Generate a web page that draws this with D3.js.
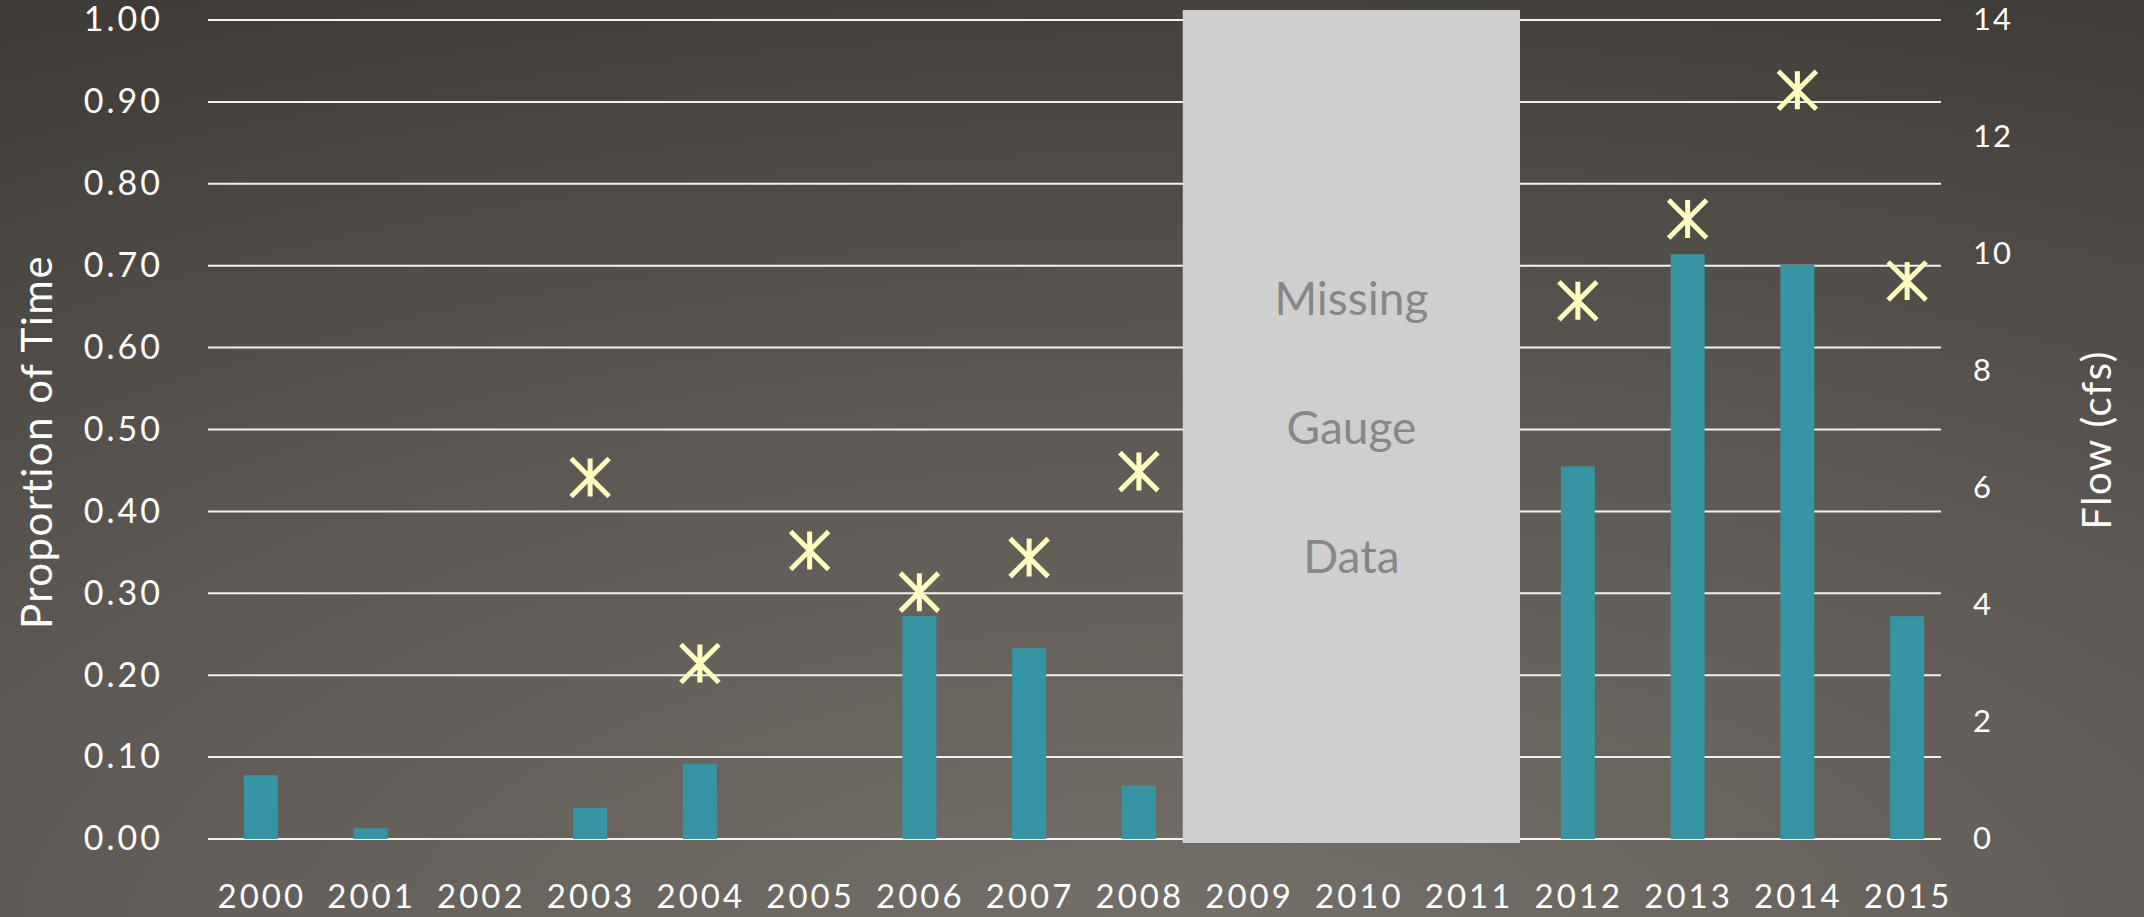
<!DOCTYPE html>
<html>
<head>
<meta charset="utf-8">
<script src="https://cdn.jsdelivr.net/npm/d3@7"></script>
<style>
  body { margin: 0; background: #4a4641; }
  svg { display: block; }
  text { font-family: Candara, Lato, "Open Sans", sans-serif; }
</style>
</head>
<body>
<svg id="chart" width="2144" height="917"></svg>
<script>
// data
var years = ["2000","2001","2002","2003","2004","2005","2006","2007","2008",
             "2009","2010","2011","2012","2013","2014","2015"];
var proportion = [0.078, 0.013, 0, 0.038, 0.092, 0, 0.272, 0.233, 0.065,
                  null, null, null, 0.455, 0.714, 0.701, 0.272];
var flow = [null, null, null, 6.18, 3.0, 4.93, 4.22, 4.81, 6.28,
            null, null, null, 9.2, 10.6, 12.8, 9.54];
var leftTicks = [0, 0.1, 0.2, 0.3, 0.4, 0.5, 0.6, 0.7, 0.8, 0.9, 1.0];
var rightTicks = [0, 2, 4, 6, 8, 10, 12, 14];
var missingYears = ["2009", "2010", "2011"];
var missingLabel = ["Missing", "Gauge", "Data"];

var W = 2144, H = 917;
var plotLeft = 208, plotRight = 1941, plotTop = 20, plotBottom = 839;
var catLeft = 206, catRight = 1962;
var fontStack = "Candara, Lato, 'Open Sans', sans-serif";

var svg = d3.select("#chart");

// background
var defs = svg.append("defs");
var grad = defs.append("radialGradient").attr("id", "bg")
    .attr("cx", 0.55).attr("cy", 1.05).attr("r", 1.15)
    .attr("gradientUnits", "objectBoundingBox");
grad.append("stop").attr("offset", 0).attr("stop-color", "#757069");
grad.append("stop").attr("offset", 0.55).attr("stop-color", "#5c5752");
grad.append("stop").attr("offset", 1).attr("stop-color", "#3f3b37");
svg.append("rect").attr("width", W).attr("height", H).attr("fill", "url(#bg)");

var xo = d3.scaleBand().domain(years).range([catLeft, catRight]).padding(0);
var x = d3.scaleBand().domain(years).range([catLeft, catRight])
    .paddingInner(0.69).paddingOuter(0.345);
var y = d3.scaleLinear().domain([0, 1]).range([plotBottom, plotTop]);
var y2 = d3.scaleLinear().domain([0, 14]).range([plotBottom, plotTop]);

// gridlines
svg.append("g").selectAll("line")
  .data(leftTicks)
  .enter().append("line")
    .attr("x1", plotLeft).attr("x2", plotRight)
    .attr("y1", d => y(d)).attr("y2", d => y(d))
    .attr("stroke", "#f2f2f2").attr("stroke-width", 2);

// left axis
var yAxis = d3.axisLeft(y).tickValues(leftTicks).tickFormat(d3.format(".2f")).tickSize(0).tickPadding(0);
var gy = svg.append("g").attr("transform", "translate(163,0)").call(yAxis);
gy.select(".domain").remove();
gy.selectAll("text").attr("fill", "#ffffff").style("font-size", "34px")
  .style("letter-spacing", "3px")
  .style("font-family", fontStack);

// right axis
var yAxis2 = d3.axisRight(y2).tickValues(rightTicks).tickSize(0).tickPadding(0);
var gy2 = svg.append("g").attr("transform", "translate(1973,0)").call(yAxis2);
gy2.select(".domain").remove();
gy2.selectAll("text").attr("fill", "#ffffff").style("font-size", "31px")
  .style("letter-spacing", "2px")
  .style("font-family", fontStack);

// x axis labels
var xAxis = d3.axisBottom(xo).tickSize(0).tickPadding(0);
var gx = svg.append("g").attr("transform", "translate(1,885)").call(xAxis);
gx.select(".domain").remove();
gx.selectAll("text").attr("fill", "#ffffff").style("font-size", "33px")
  .style("letter-spacing", "3px")
  .style("font-family", fontStack);

// bars
svg.append("g").selectAll("rect")
  .data(years.map((d, i) => ({year: d, v: proportion[i]})).filter(d => d.v))
  .enter().append("rect")
    .attr("x", d => x(d.year))
    .attr("width", x.bandwidth())
    .attr("y", d => y(d.v))
    .attr("height", d => y(0) - y(d.v))
    .attr("fill", "#3795a3");

// missing data box
var bx0 = xo(missingYears[0]) - 11;
var bx1 = xo(missingYears[missingYears.length - 1]) + xo.step() - 3;
svg.append("rect")
  .attr("x", bx0).attr("y", y(1) - 10)
  .attr("width", bx1 - bx0).attr("height", y(0) - y(1) + 14)
  .attr("fill", "#d0cfd0");
svg.append("g").selectAll("text")
  .data(missingLabel)
  .enter().append("text")
    .attr("x", (bx0 + bx1) / 2)
    .attr("y", (d, i) => 315 + i * 129)
    .attr("text-anchor", "middle")
    .attr("fill", "#888787")
    .style("font-size", "46px")
    .text(d => d);

// flow markers
var arm = 19;
svg.append("g").selectAll("path")
  .data(years.map((d, i) => ({year: d, v: flow[i]})).filter(d => d.v != null))
  .enter().append("path")
    .attr("transform", d => "translate(" + (xo(d.year) + xo.bandwidth() / 2) + "," + y2(d.v) + ")")
    .attr("d", "M0," + (-arm) + "V" + arm +
               "M" + (-arm) + "," + (-arm) + "L" + arm + "," + arm +
               "M" + (-arm) + "," + arm + "L" + arm + "," + (-arm))
    .attr("stroke", "#fffcc0").attr("stroke-width", 5).attr("fill", "none");

// axis titles
svg.append("text")
  .attr("transform", "translate(52,442) rotate(-90)")
  .attr("text-anchor", "middle").attr("fill", "#ffffff")
  .style("font-size", "42px")
  .style("letter-spacing", "1.5px")
  .text("Proportion of Time");
svg.append("text")
  .attr("transform", "translate(2111,440) rotate(-90)")
  .attr("text-anchor", "middle").attr("fill", "#ffffff")
  .style("font-size", "40px")
  .style("letter-spacing", "1.5px")
  .text("Flow (cfs)");
</script>
</body>
</html>
